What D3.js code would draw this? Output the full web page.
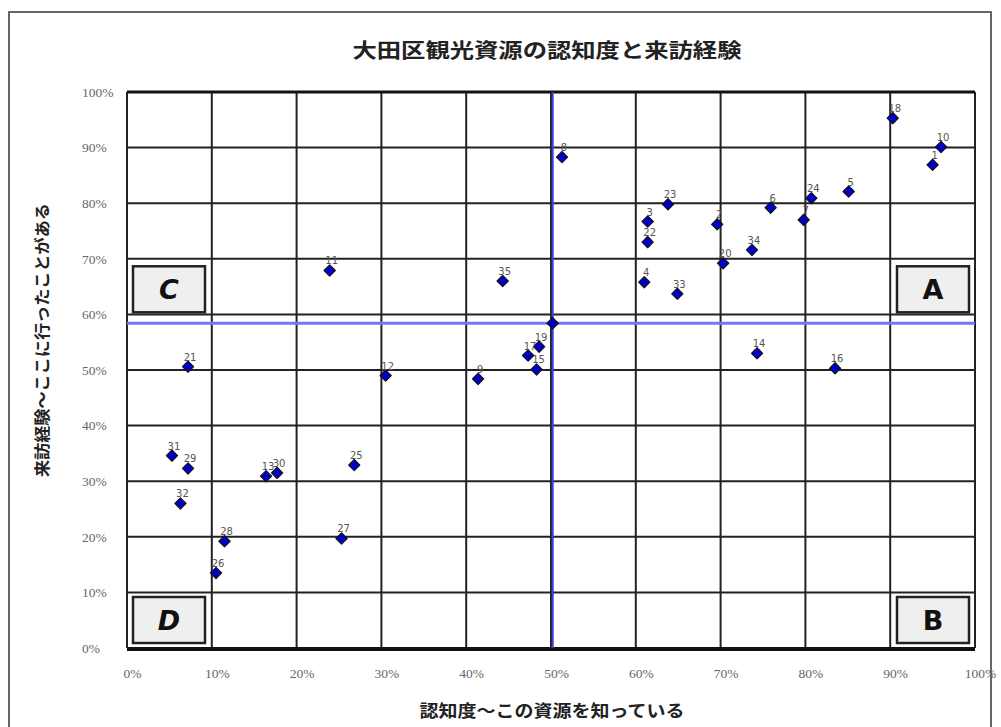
<!DOCTYPE html>
<html><head><meta charset="utf-8">
<script src="https://cdn.jsdelivr.net/npm/d3@7"></script>
<style>body{margin:0;background:#fff}</style>
</head><body>
<svg id="c" width="1001" height="727"></svg>
<script>
const title = "大田区観光資源の認知度と来訪経験";
const xTitle = "認知度～この資源を知っている";
const yTitle = "来訪経験～ここに行ったことがある";
const ids   = ["1","2","3","4","5","6","7","8","9","10","11","12","13","14","15","16","17","18","19","20","21","22","23","24","25","26","27","28","29","30","31","32","33","34","35"];
const awareness = [95.0,69.6,61.4,61.0,85.1,75.9,79.8,51.3,41.4,96.0,23.9,30.5,16.4,74.3,48.3,83.5,47.3,90.3,48.6,70.3,7.2,61.4,63.8,80.7,26.8,10.5,25.3,11.5,7.2,17.7,5.3,6.3,64.9,73.7,44.3];
const visited   = [86.9,76.2,76.7,65.8,82.1,79.2,77.0,88.3,48.4,90.1,67.9,49.0,30.9,53.0,50.1,50.3,52.6,95.3,54.2,69.2,50.6,73.0,79.8,80.9,32.9,13.5,19.7,19.2,32.3,31.5,34.6,26.0,63.7,71.6,66.0];
const average = [50.2, 58.4];
const ticks = [0,10,20,30,40,50,60,70,80,90,100];
const quadrants = ["A","B","C","D"];

const svg = d3.select("#c");
const x = d3.scaleLinear().domain([0,100]).range([127,975]);
const y = d3.scaleLinear().domain([0,100]).range([648,92]);

// outer frame
svg.append("rect").attr("x",9).attr("y",12).attr("width",982).attr("height",740)
  .attr("fill","none").attr("stroke","#666").attr("stroke-width",2);

svg.append("text").attr("x",547).attr("y",58).attr("text-anchor","middle")
  .attr("font-family","Noto Sans CJK JP").attr("font-weight","bold").attr("font-size",20)
  .attr("textLength",389).attr("lengthAdjust","spacingAndGlyphs")
  .attr("fill","#222").text(title);

const g = svg.append("g");
// gridlines
g.selectAll("line.v").data(ticks).join("line")
  .attr("x1",d=>x(d)).attr("x2",d=>x(d)).attr("y1",y(0)).attr("y2",y(100))
  .attr("stroke","#222").attr("stroke-width",2);
g.selectAll("line.h").data(ticks).join("line").attr("class","h")
  .attr("y1",d=>y(d)).attr("y2",d=>y(d)).attr("x1",x(0)).attr("x2",x(100))
  .attr("stroke","#222").attr("stroke-width",2);
// heavier top and bottom border
g.append("line").attr("x1",x(0)).attr("x2",x(100)).attr("y1",y(100)).attr("y2",y(100)).attr("stroke","#111").attr("stroke-width",3);
g.append("line").attr("x1",x(0)).attr("x2",x(100)).attr("y1",y(0)+1).attr("y2",y(0)+1).attr("stroke","#111").attr("stroke-width",4);

// quadrant boxes
const bw=72, bh=46, pad=6;
quadrants.forEach(q=>{
  const right = (q==="A"||q==="B");
  const top = (q==="A"||q==="C");
  const bx = right ? x(100)-pad-bw : x(0)+pad;
  const by = top ? y(average[1])-pad-bh-5 : y(0)-pad-bh+1;
  g.append("rect").attr("x",bx).attr("y",by).attr("width",bw).attr("height",bh)
    .attr("fill","#efefef").attr("stroke","#222").attr("stroke-width",2.5);
  g.append("text").attr("x",bx+bw/2).attr("y",by+bh/2+10).attr("text-anchor","middle")
    .attr("font-family","DejaVu Sans").attr("font-weight","bold")
    .attr("font-style", right?"normal":"italic").attr("font-size",27).attr("fill","#111").text(q);
});

// average lines
g.append("line").attr("x1",x(0)).attr("x2",x(100)).attr("y1",y(average[1])).attr("y2",y(average[1]))
  .attr("stroke","#7474f6").attr("stroke-width",3);
g.append("line").attr("x1",x(average[0])).attr("x2",x(average[0])).attr("y1",y(0)).attr("y2",y(100))
  .attr("stroke","#3b3be8").attr("stroke-width",2);

// axes
const ya = svg.append("g").attr("transform",`translate(${x(0)},0)`)
  .call(d3.axisLeft(y).tickValues(ticks).tickFormat(d=>d+"%").tickSize(0));
ya.select(".domain").remove();
ya.selectAll("text").attr("x",82-x(0)).attr("text-anchor","start")
  .attr("font-family","Liberation Serif").attr("font-size",13.5).attr("fill","#666");
const xa = svg.append("g").attr("transform",`translate(0,${y(0)})`)
  .call(d3.axisBottom(x).tickValues(ticks).tickFormat(d=>d+"%").tickSize(0));
xa.select(".domain").remove();
xa.selectAll("text").attr("y",20).attr("dx",5)
  .attr("font-family","Liberation Serif").attr("font-size",13.5).attr("fill","#666");

svg.append("text").attr("x",552).attr("y",717).attr("text-anchor","middle")
  .attr("font-family","Noto Sans CJK JP").attr("font-weight","bold").attr("font-size",17)
  .attr("textLength",265).attr("lengthAdjust","spacingAndGlyphs")
  .attr("fill","#222").text(xTitle);
svg.append("text").attr("transform","translate(48,340) rotate(-90)").attr("text-anchor","middle")
  .attr("font-family","Noto Sans CJK JP").attr("font-weight","bold").attr("font-size",16)
  .attr("textLength",274).attr("lengthAdjust","spacingAndGlyphs")
  .attr("fill","#222").text(yTitle);

// points
const pts = ids.map((id,i)=>({id, a:awareness[i], v:visited[i]}));
const diamond = d3.symbol().type(d3.symbolDiamond2).size(80);
g.selectAll("path.pt").data(pts).join("path")
  .attr("transform",d=>`translate(${x(d.a)},${y(d.v)})`).attr("d",diamond)
  .attr("fill","#0000cc").attr("stroke","#111").attr("stroke-width",1.2).attr("stroke-linejoin","round");
g.append("path").attr("transform",`translate(${x(average[0])},${y(average[1])})`).attr("d",diamond)
  .attr("fill","#0000cc").attr("stroke","#111").attr("stroke-width",1.2).attr("stroke-linejoin","round");
g.selectAll("text.lb").data(pts).join("text")
  .attr("x",d=>x(d.a)+2).attr("y",d=>y(d.v)-6).attr("text-anchor","middle")
  .attr("font-family","DejaVu Sans").attr("font-size",10).attr("fill","#555").text(d=>d.id);
</script>
</body></html>
